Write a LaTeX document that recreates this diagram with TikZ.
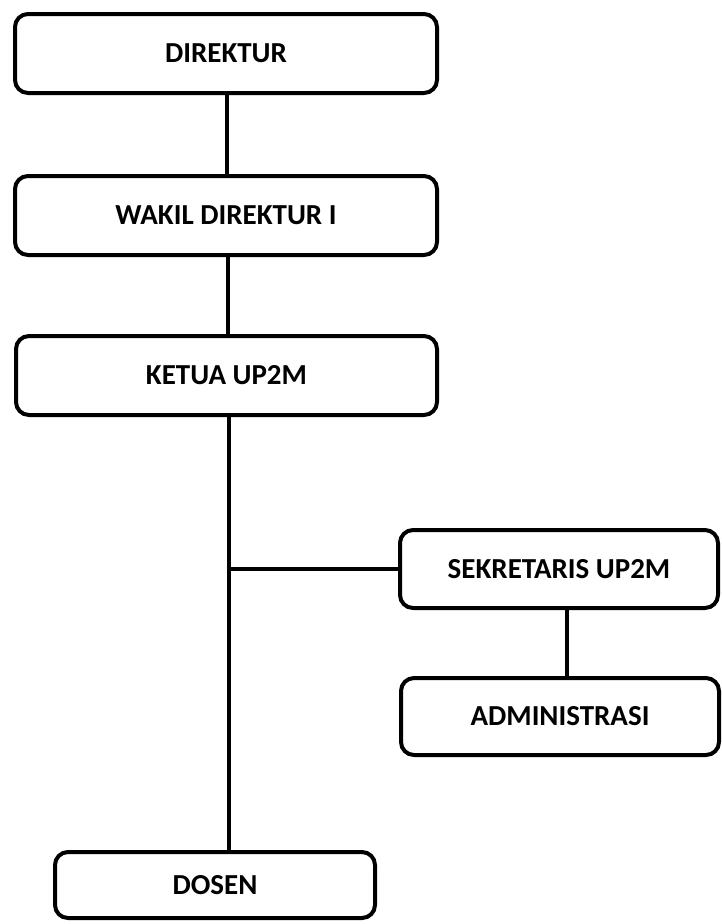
\documentclass[tikz,border=0pt]{standalone}
\usepackage{fontspec}
\setmainfont{Carlito}
\begin{document}
\begin{tikzpicture}[x=1pt,y=-1pt,
  box/.style={draw=black,line width=4pt,rounded corners=13pt,fill=white,
    inner sep=0pt,font=\fontsize{29}{32}\selectfont\bfseries,text=black},
  link/.style={draw=black,line width=4pt}]
\useasboundingbox (0,0) rectangle (721,924);
\node[box,minimum width=422pt,minimum height=79pt] (dir) at (226,53.5) {DIREKTUR};
\node[box,minimum width=422pt,minimum height=79pt] (wakil) at (226,215.5) {WAKIL DIREKTUR I};
\node[box,minimum width=421pt,minimum height=79pt] (ketua) at (226.5,375.5) {KETUA UP2M};
\node[box,minimum width=318pt,minimum height=78pt] (sek) at (559,569) {SEKRETARIS UP2M};
\node[box,minimum width=318pt,minimum height=77pt] (adm) at (560,716.5) {ADMINISTRASI};
\node[box,minimum width=320pt,minimum height=66pt] (dosen) at (215,885) {DOSEN};
\draw[link] ([xshift=1pt]dir.south) -- ([xshift=1pt]dir.south |- wakil.north);
\draw[link] ([xshift=2pt]wakil.south) -- ([xshift=2pt]wakil.south |- ketua.north);
\draw[link] ([xshift=2.5pt]ketua.south) coordinate (ks) -- (ks |- dosen.north);
\coordinate (j) at (ks |- sek.west);
\draw[link] (j) -- (sek.west);
\draw[link] ([xshift=8pt]sek.south) -- ([xshift=8pt]sek.south |- adm.north);
\end{tikzpicture}
\end{document}
